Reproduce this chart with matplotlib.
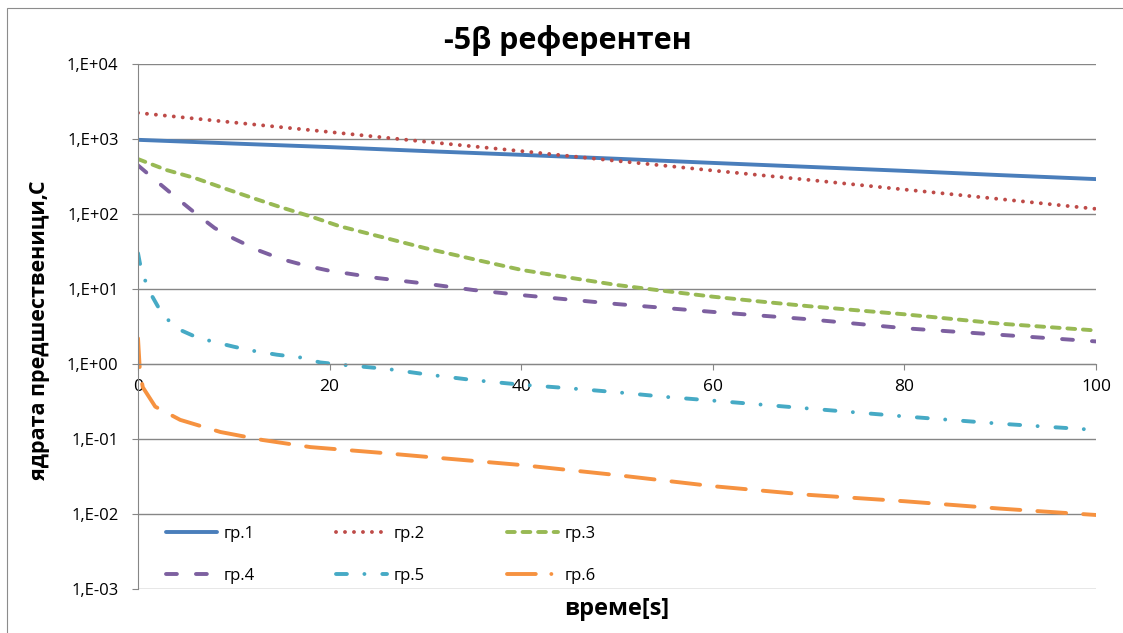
import numpy as np
from matplotlib import pyplot as plt
from matplotlib.lines import Line2D
from matplotlib.patches import Rectangle
from matplotlib.ticker import FixedLocator, FuncFormatter, NullLocator

plt.rcParams['font.family'] = ['Open Sans', 'DejaVu Sans']

# values (time in s, concentration C)
t1 = [0, 10, 20, 30, 40, 50, 60, 70, 80, 90, 100]
gr1 = [975, 870, 780, 690, 615, 545, 480, 425, 376, 330, 292]
t2 = [0, 10, 20, 30, 40, 50, 60, 70, 80, 90, 100]
gr2 = [2230, 1660, 1240, 920, 690, 510, 380, 285, 212, 158, 117]
t3 = [0, 3, 6, 9, 12, 15, 18, 21, 25, 30, 35, 40, 45, 50, 55, 60, 65, 70, 80, 90, 100]
gr3 = [540, 385, 300, 220, 163, 122, 93, 69, 51, 35, 25, 18, 14.2, 11.3, 9.4, 7.9, 6.8, 5.9, 4.6, 3.45, 2.8]
t4 = [0, 2, 4, 6, 8, 10, 12.5, 15, 17.5, 20, 25, 30, 35, 40, 50, 60, 70, 80, 90, 100]
gr4 = [445, 270, 165, 102, 65, 47, 33, 25, 20.5, 17.5, 14, 11.8, 9.7, 8.3, 6.3, 4.95, 3.95, 3.0, 2.45, 2.0]
t5 = [0, 0.2, 0.7, 1.25, 2.5, 4, 5.7, 7.7, 10, 12, 14.5, 17, 19, 21.5, 26, 30, 35, 40, 45, 50, 55, 60, 70, 80, 90, 100]
gr5 = [30, 22, 13.5, 9, 4.7, 3.0, 2.4, 2.0, 1.7, 1.5, 1.33, 1.22, 1.05, 0.97, 0.86, 0.73, 0.61, 0.53,
       0.475, 0.42, 0.365, 0.325, 0.255, 0.20, 0.16, 0.132]
t6 = [0, 0.2, 0.5, 1.8, 4.4, 8.6, 13, 18, 25, 30, 40, 50, 60, 70, 80, 90, 100]
gr6 = [2.2, 0.8, 0.49, 0.27, 0.18, 0.124, 0.097, 0.078, 0.066, 0.058, 0.045, 0.033, 0.0235, 0.018,
       0.0148, 0.0118, 0.0097]

labels = ['гр.1', 'гр.2', 'гр.3', 'гр.4', 'гр.5', 'гр.6']
colors = ['#4A7EBB', '#BE4B48', '#98B954', '#7D60A0', '#46AAC5', '#F69240']
styles = ['-', (0, (0.01, 2.3)), (0, (2, 2)), (0, (2.8, 4.9)), (0, (2.8, 4.5, 0.01, 4.6)), (0, (7.4, 4.4))]
series = [(t1, gr1), (t2, gr2), (t3, gr3), (t4, gr4), (t5, gr5), (t6, gr6)]

fig = plt.figure(figsize=(11.23, 6.33), dpi=100)
W, H = 1123, 633
ax = fig.add_axes([138 / W, 1 - 589 / H, (1096 - 138) / W, (589 - 64) / H])

lines = []
for (t, y), lab, c, ls in zip(series, labels, colors, styles):
    ln, = ax.plot(t, y, color=c, lw=2.8, ls=ls, label=lab,
                  dash_capstyle='round', solid_capstyle='round')
    lines.append(ln)

ax.set_yscale('log')
ax.set_ylim(1e-3, 1e4)
ax.set_xlim(0, 100)

grid_c = '#868686'
ax.yaxis.set_major_locator(FixedLocator([10.0 ** k for k in range(-3, 5)]))
ax.yaxis.set_minor_locator(NullLocator())
ax.yaxis.set_major_formatter(FuncFormatter(lambda v, p: '1,E' + format(int(round(np.log10(v))), '+03d')))
ax.set_xticks([0, 20, 40, 60, 80, 100])
ax.yaxis.grid(True, color=grid_c, lw=1)
ax.set_axisbelow(True)

for s in ['top', 'right']:
    ax.spines[s].set_visible(False)
ax.spines['left'].set_color(grid_c)
ax.spines['bottom'].set_color(grid_c)
ax.spines['bottom'].set_position(('data', 1))
ax.tick_params(axis='y', colors=grid_c, labelcolor='black', length=4, labelsize=12, pad=10)
ax.tick_params(axis='x', colors=grid_c, labelcolor='black', length=4, labelsize=12.5, pad=7)

# legend filled row by row; orange handle shows long dash + dot as in the original
handles = lines[:5] + [Line2D([], [], color=colors[5], lw=2.8, ls=(0, (7.4, 4.0, 0.01, 4.0)),
                              dash_capstyle='round')]
order = [0, 3, 1, 4, 2, 5]
ax.legend([handles[i] for i in order], [labels[i] for i in order], ncol=3, frameon=False, fontsize=12,
          loc='upper left', bbox_to_anchor=(166 / W, 1 - 526 / H), bbox_transform=fig.transFigure,
          borderpad=0, borderaxespad=0, handlelength=3.05, handletextpad=0.4,
          columnspacing=4.9, labelspacing=1.55)

fig.text(568 / W, 1 - 41 / H, '-5β референтен', ha='center', va='center', fontsize=22, fontweight='bold')
fig.text(40 / W, 1 - 330 / H, 'ядрата предшественици,C', ha='center', va='center', rotation=90,
         fontsize=15.5, fontweight='bold')
fig.text(617 / W, 1 - 609 / H, 'време[s]', ha='center', va='center', fontsize=17, fontweight='bold')

fig.add_artist(Rectangle((7 / W, -0.1), 1.2, 1.1 - 8 / H, transform=fig.transFigure,
                         fill=False, edgecolor='#8c8c8c', lw=0.8))

fig.savefig('out.png', dpi=100)
